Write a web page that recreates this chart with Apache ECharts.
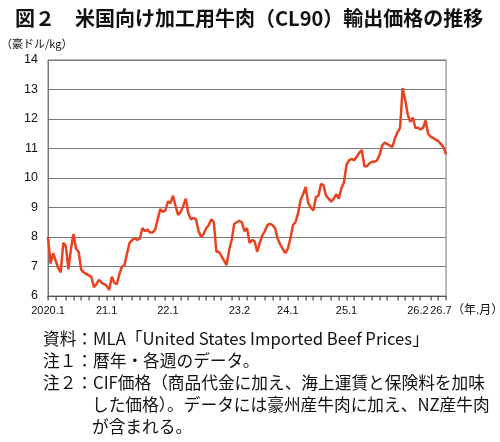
<!DOCTYPE html>
<html>
<head>
<meta charset="utf-8">
<script src="https://cdn.jsdelivr.net/npm/echarts@6/dist/echarts.min.js"></script>
<style>
  html, body { margin: 0; padding: 0; background: #fff; }
  #main { width: 500px; height: 442px; }
</style>
</head>
<body>
<div id="main"></div>
<script>
// 半月ごとの価格（豪ドル/kg）、2020年1月〜2026年7月
const prices = [
    8.0, 7.1, 7.45, 7.2, 6.95, 6.8, 7.8, 7.7, 6.9, 7.6,
    8.1, 7.6, 7.5, 6.9, 6.8, 6.75, 6.7, 6.65, 6.3, 6.4,
    6.55, 6.45, 6.4, 6.35, 6.2, 6.65, 6.45, 6.4, 6.75, 7.0,
    7.05, 7.45, 7.8, 7.9, 7.95, 7.9, 7.95, 8.3, 8.2, 8.25,
    8.15, 8.15, 8.25, 8.6, 8.95, 8.85, 8.9, 9.2, 9.15, 9.4,
    9.05, 8.75, 8.85, 9.05, 9.3, 8.8, 8.6, 8.65, 8.6, 8.2,
    8.0, 8.1, 8.3, 8.4, 8.6, 8.5, 7.5, 7.5, 7.35, 7.2,
    7.05, 7.55, 7.9, 8.45, 8.5, 8.55, 8.5, 8.2, 8.3, 7.8,
    7.9, 7.85, 7.5, 7.8, 8.05, 8.2, 8.4, 8.45, 8.4, 8.3,
    7.95, 7.75, 7.6, 7.45, 7.6, 7.95, 8.4, 8.5, 8.8, 9.25,
    9.45, 9.7, 9.15, 9.0, 8.9, 9.35, 9.4, 9.8, 9.75, 9.4,
    9.3, 9.2, 9.3, 9.45, 9.3, 9.65, 9.85, 10.45, 10.6, 10.65,
    10.6, 10.72, 10.85, 10.95, 10.4, 10.4, 10.5, 10.55, 10.55, 10.6,
    10.8, 11.1, 11.2, 11.15, 11.1, 11.05, 11.35, 11.55, 11.7, 13.05,
    12.65, 12.15, 11.9, 12.05, 11.7, 11.7, 11.65, 11.7, 11.95, 11.5,
    11.4, 11.35, 11.3, 11.25, 11.15, 11.05, 10.8
];

// 目盛ラベルと、その位置（半月インデックス）
const tickLabels = ['2020.1', '21.1', '22.1', '23.2', '24.1', '25.1', '26.2', '26.7'];
const tickIdx = [0, 23, 47, 75, 94, 117, 145, 154];

const notes = [
    '資料：MLA「United States Imported Beef Prices」',
    '注１：暦年・各週のデータ。',
    '注２：CIF価格（商品代金に加え、海上運賃と保険料を加味',
    'した価格）。データには豪州産牛肉に加え、NZ産牛肉',
    'が含まれる。'
];

// 半月単位のカテゴリ（前半/後半）
const periods = prices.map((_, i) =>
    (2020 + Math.floor(i / 24)) + '.' + (Math.floor((i % 24) / 2) + 1) + (i % 2 ? '後' : '前'));

// 小目盛はおよそ3.25区間ごと
const minorTicks = [];
for (let k = 0; k <= 48; k++) minorTicks.push([Math.round(k * 3.25), 6]);

const jp = '"Noto Sans CJK JP", sans-serif';
const num = '"Liberation Sans", Arial, sans-serif';

const noteTexts = notes.map((t, i) => ({
    type: 'text',
    left: i >= 3 ? 92 : 43,
    top: 330 + i * 22,
    style: { text: t, font: '16.7px ' + jp, fill: '#111' }
}));

const chart = echarts.init(document.getElementById('main'));
chart.setOption({
    animation: false,
    title: {
        text: '図２　米国向け加工用牛肉（CL90）輸出価格の推移',
        left: 10,
        top: 3,
        textStyle: { fontFamily: jp, fontSize: 20, fontWeight: 'bold', color: '#111' }
    },
    grid: {
        left: 48, right: 54, top: 60, bottom: 146,
        show: true, borderColor: '#777', borderWidth: 1
    },
    xAxis: {
        type: 'category',
        data: periods,
        boundaryGap: false,
        splitLine: { show: false },
        axisLine: { show: true, lineStyle: { color: '#555' } },
        axisTick: { show: false },
        axisLabel: {
            interval: idx => tickIdx.includes(idx),
            formatter: (v, idx) => tickLabels[tickIdx.indexOf(idx)],
            margin: 9,
            fontFamily: num,
            fontSize: 11,
            color: '#111'
        }
    },
    yAxis: {
        type: 'value',
        min: 6,
        max: 14,
        interval: 1,
        axisLine: { show: true, lineStyle: { color: '#777' } },
        axisTick: { show: false },
        splitLine: { lineStyle: { color: '#7a7a7a', width: 1 } },
        axisLabel: { margin: 10, fontFamily: num, fontSize: 12.5, color: '#111' }
    },
    series: [{
        type: 'line',
        data: prices,
        symbol: 'none',
        lineStyle: { color: '#e8421e', width: 2.5 }
    }, {
        // 軸の小目盛
        type: 'custom',
        data: minorTicks,
        encode: { x: 0, y: 1 },
        clip: false,
        silent: true,
        z: 10,
        renderItem: (params, api) => {
            const p = api.coord([api.value(0), api.value(1)]);
            return {
                type: 'rect',
                shape: { x: Math.round(p[0]) - 0.5, y: p[1], width: 1.2, height: 4.5 },
                style: { fill: '#444' }
            };
        }
    }],
    graphic: [
        {
            type: 'text', left: 1, top: 38,
            style: { text: '（豪ドル/kg）', font: '11px ' + jp, fill: '#111' }
        },
        {
            type: 'text', left: 452, top: 303,
            style: { text: '（年.月）', font: '12px ' + jp, fill: '#111' }
        }
    ].concat(noteTexts)
});
</script>
</body>
</html>
